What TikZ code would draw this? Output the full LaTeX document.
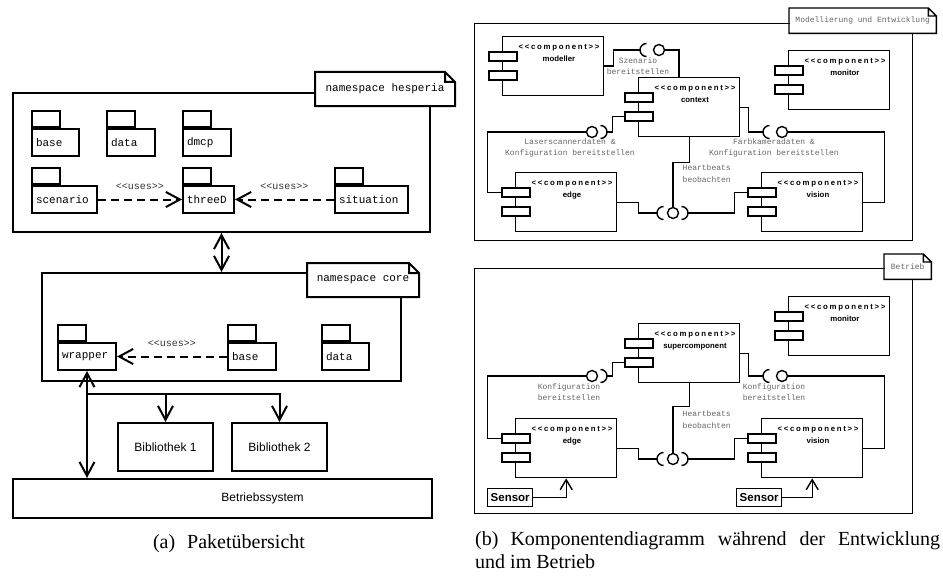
\documentclass[tikz,border=0pt]{standalone}
\usepackage{fontspec}
\setmainfont{Liberation Serif}
\setsansfont{Liberation Sans}
\setmonofont{Liberation Mono}
\newfontfamily\stereofont[LetterSpace=22]{Liberation Sans}
\usetikzlibrary{arrows.meta}

% component with two ports on its left edge
\newcommand\umlcomp[3]{%
  \node[compbody] (#1) at (#2) {};
  \node[compport] (#1-a) at ([xshift=1pt,yshift=-20.5pt]#1.north west) {};
  \node[compport] (#1-b) at ([xshift=1pt,yshift=-39.5pt]#1.north west) {};
  \node[comptext] at ([xshift=57pt,yshift=-8pt]#1.north west) {{\stereofont <<component>>}\\#3};
}
% outline of a note with folded corner
\newcommand\foldnote[2]{%
  \draw (#1.south west) -- (#1.north west) -- ([xshift=-#2]#1.north east)
    -- ([yshift=-#2]#1.north east) -- (#1.south east) -- cycle
    ([xshift=-#2]#1.north east) |- ([yshift=-#2]#1.north east);
}
\newcommand\sockl[1]{\draw (#1) ++(6.5pt,6.5pt) arc[start angle=90,end angle=270,radius=6.5pt];}
\newcommand\sockr[1]{\draw (#1) ++(-6.5pt,6.5pt) arc[start angle=90,end angle=-90,radius=6.5pt];}

\begin{document}
\begin{tikzpicture}[x=1pt, y=-1pt,
    frame/.style={draw, anchor=north west, inner sep=0pt},
    notebox/.style={fill=white, anchor=north west, inner sep=0pt},
    pkg/.style={draw, fill=white, anchor=north west, text width=#1, align=left,
      inner xsep=4pt, inner ysep=0pt, minimum height=27pt,
      font=\ttfamily\fontsize{11}{13}\selectfont},
    pkgtab/.style={draw, anchor=south west, minimum width=28pt, minimum height=16pt, inner sep=0pt},
    libbox/.style={draw, anchor=north west, minimum width=95pt, minimum height=48pt,
      font=\sffamily\fontsize{12}{14}\selectfont},
    dep/.style={dash pattern=on 8pt off 5pt, ->},
    uses/.style={above=9pt, inner sep=0pt, text=black!80, font=\ttfamily\fontsize{10}{12}\selectfont},
    compbody/.style={draw, anchor=north west, minimum width=101pt, minimum height=59pt, inner sep=0pt},
    compport/.style={draw, fill=white, minimum width=28pt, minimum height=9pt, inner sep=0pt},
    comptext/.style={anchor=north, align=center, inner sep=0pt,
      font=\sffamily\bfseries\fontsize{7.8}{11.5}\selectfont},
    ball/.style={draw, fill=white, circle, minimum size=11pt, inner sep=0pt},
    iflabel/.style={align=center, inner sep=0pt, text=black!60, font=\ttfamily\fontsize{8}{10.5}\selectfont},
    hblabel/.style={anchor=west, align=left, inner sep=0pt, text=black!60, font=\ttfamily\fontsize{8}{12}\selectfont},
    sensor/.style={draw, anchor=north west, minimum height=18pt, inner xsep=3pt, inner ysep=0pt,
      font=\sffamily\bfseries\fontsize{11.5}{13}\selectfont},
    caption/.style={inner sep=0pt, font=\fontsize{20}{23}\selectfont}]
  \useasboundingbox (0,0) rectangle (943,578);

  % (a) Paketuebersicht
  \begin{scope}[line width=2pt, >={Straight Barb[length=14pt,width=15pt]}]
    \node[frame, minimum width=417pt, minimum height=139pt] (hesperia) at (12,92) {};
    \node[notebox, minimum width=138pt, minimum height=32pt, font=\ttfamily\fontsize{11}{13}\selectfont]
      (hesperia-note) at (315,72) {namespace hesperia};
    \foldnote{hesperia-note}{10pt}
    \foreach \name/\x/\y/\w/\txt in {h-base/31/128/39/base, h-data/106/128/40/data,
        h-dmcp/182/128/40/dmcp, h-scenario/31/185/57/scenario,
        h-threeD/182/185/43/threeD, h-situation/334/185/65/situation}{
      \node[pkg=\w pt] (\name) at (\x,\y) {\txt};
      \node[pkgtab] at (\name.north west) {};
    }
    \draw[dep] (h-scenario.east) -- node[uses] {<<uses>>} (h-threeD.west);
    \draw[dep] (h-situation.west) -- node[uses] {<<uses>>} (h-threeD.east);

    \node[frame, minimum width=359pt, minimum height=108pt] (core) at (41,272) {};
    \node[notebox, minimum width=110pt, minimum height=32pt, font=\ttfamily\fontsize{11}{13}\selectfont]
      (core-note) at (307,263) {namespace core};
    \foldnote{core-note}{10pt}
    \foreach \name/\x/\y/\w/\txt in {c-wrapper/57/342/50/wrapper, c-base/227/342/40/base,
        c-data/321/342/39/data}{
      \node[pkg=\w pt] (\name) at (\x,\y) {\txt};
      \node[pkgtab] at (\name.north west) {};
    }
    \draw[dep] (c-base.west) -- node[uses] {<<uses>>} (c-wrapper.east);
    \draw[<->] (hesperia.south) -- (core.north);

    \node[libbox] (lib1) at (117,422) {Bibliothek 1};
    \node[libbox] (lib2) at (231,422) {Bibliothek 2};
    \node[libbox, minimum width=419pt, minimum height=39pt,
      label={[font=\sffamily\fontsize{12}{14}\selectfont, xshift=40pt]center:Betriebssystem}] (os) at (12,478) {};
    \coordinate (fork) at (86,394);
    \draw[<->] (c-wrapper.south) -- (c-wrapper.south |- os.north);
    \draw[->] (fork) -| (lib2.north);
    \draw[->] (fork -| lib1.north) -- (lib1.north);
  \end{scope}

  % (b) Komponentendiagramm
  \begin{scope}[line width=1.4pt, >={Straight Barb[length=10pt,width=12pt]}]
    % Modellierung und Entwicklung
    \node[frame, minimum width=438pt, minimum height=217pt] (dev) at (474,23) {};
    \node[notebox, minimum width=146pt, minimum height=24pt, text=black!60,
      font=\ttfamily\fontsize{8}{10}\selectfont] (dev-note) at (789,8) {Modellierung und Entwicklung};
    \foldnote{dev-note}{8pt}
    \umlcomp{modeller}{502,36}{modeller}
    \umlcomp{context}{638,77}{context}
    \umlcomp{dev-monitor}{788,50}{monitor}
    \umlcomp{dev-edge}{515,172}{edge}
    \umlcomp{dev-vision}{761,172}{vision}

    \coordinate (sz-s) at (640,50);
    \node[ball] (sz-b) at (659,50) {};
    \draw (modeller.east) -- ++(9,0) |- (sz-s);
    \sockl{sz-s}
    \draw (sz-b.east) -| ([xshift=41pt]context.north west);
    \node[iflabel] at (638,66) {Szenario\\bereitstellen};

    \coordinate (ls-s) at (607,132);
    \node[ball] (ls-b) at (592,132) {};
    \draw (context-b.west) -- ++(-12,0) |- (ls-s);
    \sockr{ls-s}
    \draw (ls-b.west) -| ([xshift=-14pt]dev-edge-a.west) -- (dev-edge-a.west);
    \node[iflabel] at (570,148) {Laserscannerdaten \&\\Konfiguration bereitstellen};

    \coordinate (fk-s) at (763,132);
    \node[ball] (fk-b) at (782,132) {};
    \draw (context.east) -- ++(8,0) |- (fk-s);
    \sockl{fk-s}
    \draw (fk-b.east) -| ([xshift=21pt]dev-vision.east) -- (dev-vision.east);
    \node[iflabel] at (774,148) {Farbkameradaten \&\\Konfiguration bereitstellen};

    \coordinate (hb-l) at (657,213);
    \coordinate (hb-r) at (688,213);
    \node[ball] (hb-b) at (673,213) {};
    \draw (context.south) -- ++(0,25) -| (hb-b.north);
    \sockl{hb-l}
    \sockr{hb-r}
    \draw (dev-edge.east) -- ++(21,0) |- (hb-l);
    \draw (hb-r) -| ([xshift=-13pt]dev-vision-a.west) -- (dev-vision-a.west);
    \node[hblabel] at (682,174) {Heartbeats\\beobachten};

    % Betrieb
    \node[frame, minimum width=438pt, minimum height=245pt] (ops) at (474,268) {};
    \node[notebox, minimum width=46pt, minimum height=24pt, text=black!60,
      font=\ttfamily\fontsize{8}{10}\selectfont] (ops-note) at (884,254) {Betrieb};
    \foldnote{ops-note}{8pt}
    \umlcomp{ops-monitor}{788,296}{monitor}
    \umlcomp{super}{638,323}{supercomponent}
    \umlcomp{ops-edge}{515,418}{edge}
    \umlcomp{ops-vision}{761,418}{vision}

    \coordinate (k1-s) at (607,376);
    \node[ball] (k1-b) at (592,376) {};
    \draw (super-b.west) -- ++(-12,0) |- (k1-s);
    \sockr{k1-s}
    \draw (k1-b.west) -| ([xshift=-14pt]ops-edge-a.west) -- (ops-edge-a.west);
    \node[iflabel] at (569,392) {Konfiguration\\bereitstellen};

    \coordinate (k2-s) at (763,376);
    \node[ball] (k2-b) at (782,376) {};
    \draw (super.east) -- ++(8,0) |- (k2-s);
    \sockl{k2-s}
    \draw (k2-b.east) -| ([xshift=21pt]ops-vision.east) -- (ops-vision.east);
    \node[iflabel] at (774,392) {Konfiguration\\bereitstellen};

    \coordinate (hb2-l) at (657,459);
    \coordinate (hb2-r) at (688,459);
    \node[ball] (hb2-b) at (673,459) {};
    \draw (super.south) -- ++(0,23) -| (hb2-b.north);
    \sockl{hb2-l}
    \sockr{hb2-r}
    \draw (ops-edge.east) -- ++(21,0) |- (hb2-l);
    \draw (hb2-r) -| ([xshift=-13pt]ops-vision-a.west) -- (ops-vision-a.west);
    \node[hblabel] at (682,420) {Heartbeats\\beobachten};

    \node[sensor] (sensor1) at (487,488) {Sensor};
    \node[sensor] (sensor2) at (736,488) {Sensor};
    \draw[->] (sensor1.east) -| (ops-edge.south);
    \draw[->] (sensor2.east) -| (ops-vision.south);
  \end{scope}

  % captions
  \node[caption, anchor=base] (cap-a) at (229,548) {(a)\hspace{0.6em}Paketübersicht};
  \node[caption, anchor=base west] (cap-b1) at (475,545)
    {\makebox[465pt][s]{(b)\hspace{0.6em}Komponentendiagramm während der Entwicklung}};
  \node[caption, anchor=base west] (cap-b2) at (475,568) {und im Betrieb};
\end{tikzpicture}
\end{document}
